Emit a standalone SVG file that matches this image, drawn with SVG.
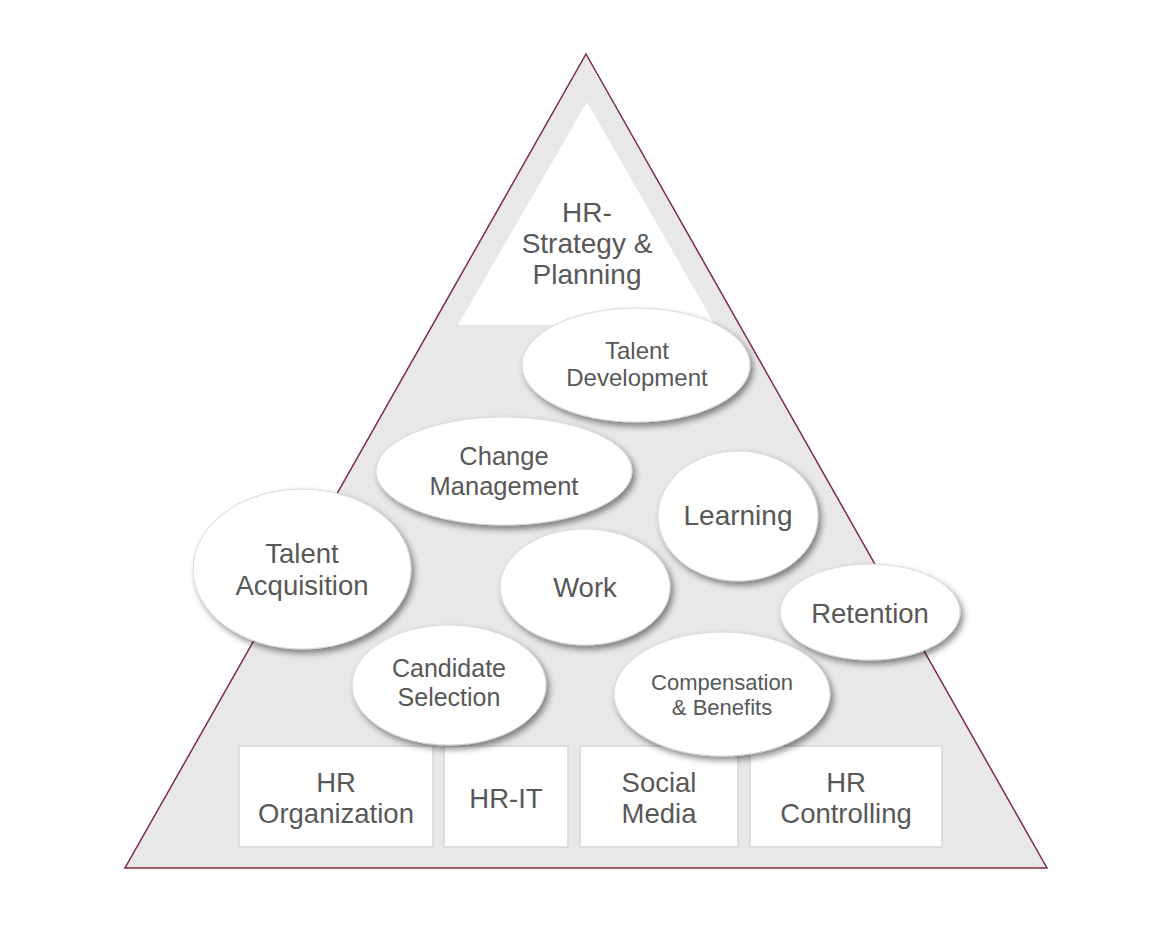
<svg xmlns="http://www.w3.org/2000/svg" width="1163" height="929" viewBox="0 0 1163 929">
<style>
.t{font-family:"Liberation Sans",Arial,sans-serif;fill:#585858;text-anchor:middle}
.ell{fill:#fff;stroke:#d8d8d8;stroke-width:1;filter:url(#sh)}
.box{fill:#fff;stroke:#d6d6d6;stroke-width:1.5}
</style>
<defs>
<filter id="sh" x="-20%" y="-20%" width="150%" height="150%">
<feDropShadow dx="3" dy="4" stdDeviation="3" flood-color="#000" flood-opacity="0.45"/>
</filter>
</defs>
<rect width="1163" height="929" fill="#fff"/>
<g id="pyramid">
<polygon points="586,54 1047,868 125,868" fill="#e8e8e8" stroke="#7a2f3a" stroke-width="1.5"/>
</g>
<g id="strategy">
<polygon points="587,102 715,325 458,325" fill="#fff"/>
<text class="t" font-size="28"><tspan x="587" y="222">HR-</tspan><tspan x="587" y="253">Strategy &amp;</tspan><tspan x="587" y="284">Planning</tspan></text>
</g>
<g id="connectors"></g>
<g id="boxes">
<g id="hr-organization"><rect class="box" x="239" y="746" width="194" height="101"/><text class="t" font-size="27.5"><tspan x="336" y="792">HR</tspan><tspan x="336" y="823">Organization</tspan></text></g>
<g id="hr-it"><rect class="box" x="444" y="746" width="124" height="101"/><text class="t" font-size="27.5" x="506" y="808">HR-IT</text></g>
<g id="social-media"><rect class="box" x="580" y="746" width="158" height="101"/><text class="t" font-size="27.5"><tspan x="659" y="792">Social</tspan><tspan x="659" y="823">Media</tspan></text></g>
<g id="hr-controlling"><rect class="box" x="750" y="746" width="192" height="101"/><text class="t" font-size="27.5"><tspan x="846" y="792">HR</tspan><tspan x="846" y="823">Controlling</tspan></text></g>
</g>
<g id="talent-development"><ellipse class="ell" cx="636" cy="365" rx="114" ry="57"/><text class="t" font-size="24"><tspan x="637" y="359">Talent</tspan><tspan x="637" y="386">Development</tspan></text></g>
<g id="change-management"><ellipse class="ell" cx="504" cy="471" rx="128" ry="54"/><text class="t" font-size="25.5"><tspan x="504" y="465">Change</tspan><tspan x="504" y="495">Management</tspan></text></g>
<g id="learning"><ellipse class="ell" cx="738" cy="516" rx="80" ry="65"/><text class="t" font-size="28" x="738" y="525">Learning</text></g>
<g id="talent-acquisition"><ellipse class="ell" cx="302" cy="569" rx="109" ry="80"/><text class="t" font-size="27.5"><tspan x="302" y="563">Talent</tspan><tspan x="302" y="595">Acquisition</tspan></text></g>
<g id="work"><ellipse class="ell" cx="585" cy="587" rx="85" ry="58"/><text class="t" font-size="27.5" x="585" y="597">Work</text></g>
<g id="retention"><ellipse class="ell" cx="870" cy="612" rx="90" ry="48"/><text class="t" font-size="27.5" x="870" y="623">Retention</text></g>
<g id="candidate-selection"><ellipse class="ell" cx="449" cy="685" rx="97" ry="60"/><text class="t" font-size="25"><tspan x="449" y="677">Candidate</tspan><tspan x="449" y="706">Selection</tspan></text></g>
<g id="compensation-benefits"><ellipse class="ell" cx="722" cy="694" rx="108" ry="62"/><text class="t" font-size="22"><tspan x="722" y="690">Compensation</tspan><tspan x="722" y="715">&amp; Benefits</tspan></text></g>
</svg>
